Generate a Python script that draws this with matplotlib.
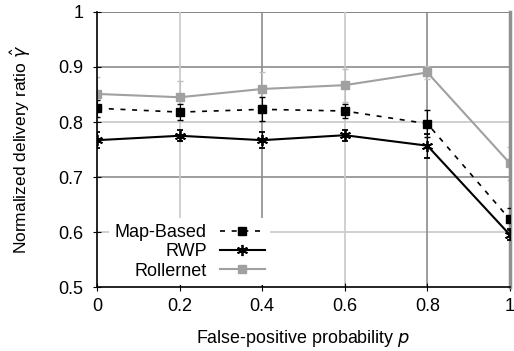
import matplotlib.pyplot as plt
import numpy as np

plt.rcParams['font.family'] = ['Liberation Sans', 'DejaVu Sans']
plt.rcParams['mathtext.fontset'] = 'dejavusans'

# --- datos ---
p = [0, 0.2, 0.4, 0.6, 0.8, 1.0]
map_based = [0.825, 0.818, 0.823, 0.820, 0.797, 0.623]
map_err = [0.015, 0.015, 0.022, 0.012, 0.025, 0.020]
rwp = [0.767, 0.775, 0.767, 0.776, 0.757, 0.595]
rwp_err = [0.015, 0.010, 0.015, 0.010, 0.022, 0.010]
rollernet = [0.851, 0.845, 0.860, 0.867, 0.890, 0.725]
roller_err = [0.030, 0.030, 0.030, 0.030, 0.012, 0.030]

fig = plt.figure(figsize=(5.14, 3.51), dpi=100)
ax = fig.add_axes([0.189, 0.182, 0.803, 0.784])

# rejilla con dos tonos de gris
for v, c in zip([0.6, 0.7, 0.8, 0.9, 1.0], ['#c8c8c8', '#8c8c8c', '#c8c8c8', '#8c8c8c', '#6e6e6e']):
    ax.axhline(v, color=c, lw=1.2, zorder=0)
for v, c in zip([0.2, 0.4, 0.6, 0.8], ['#c8c8c8', '#8c8c8c', '#c8c8c8', '#8c8c8c']):
    ax.axvline(v, color=c, lw=1.2, zorder=0)

ax.errorbar(p, rollernet, yerr=roller_err, color='#a0a0a0', ecolor='#c0c0c0', lw=1.5,
            marker='s', ms=6, capsize=2.5, elinewidth=0.8, label='Rollernet', zorder=2)
ax.errorbar(p, map_based, yerr=map_err, color='black', lw=1.2, ls=(0, (3, 4)), marker='s', ms=6,
            capsize=2.5, elinewidth=0.8, label='Map-Based', zorder=3)
ax.errorbar(p, rwp, yerr=rwp_err, color='black', lw=1.5, marker=(6, 2, 0), ms=8, mew=1.3,
            capsize=2.5, elinewidth=0.8, label='RWP', zorder=4)

ax.set_xlim(0, 1)
ax.set_ylim(0.5, 1)
ax.set_xticks(p)
ax.set_xticklabels(['0', '0.2', '0.4', '0.6', '0.8', '1'])
ax.set_yticks([0.5, 0.6, 0.7, 0.8, 0.9, 1.0])
ax.set_yticklabels(['0.5', '0.6', '0.7', '0.8', '0.9', '1'])
ax.tick_params(labelsize=13, direction='inout', length=6, pad=7, colors='black')
ax.tick_params(axis='x', pad=5)

ax.spines['top'].set_visible(False)
ax.spines['right'].set_color('#909090')
ax.spines['right'].set_linewidth(2.5)
ax.spines['left'].set_linewidth(1.2)
ax.spines['bottom'].set_linewidth(1.2)

ax.set_xlabel('False-positive probability $p$', fontsize=12.9, labelpad=9)
ax.set_ylabel(r'Normalized delivery ratio $\hat{\gamma}$', fontsize=12.5, labelpad=18)

handles, labels = ax.get_legend_handles_labels()
order = [1, 2, 0]
leg = ax.legend([handles[i][0] for i in order], [labels[i] for i in order],
                loc='lower left', bbox_to_anchor=(0.008, -0.025), markerfirst=False,
                frameon=True, framealpha=1, edgecolor='none', fontsize=13,
                handlelength=2.5, labelspacing=0.13, borderpad=0.3, handletextpad=0.7)
leg.set_zorder(20)
for t in leg.get_texts():
    t.set_ha('right')
leg._legend_box.align = 'right'

fig.savefig('out.png', dpi=100)
